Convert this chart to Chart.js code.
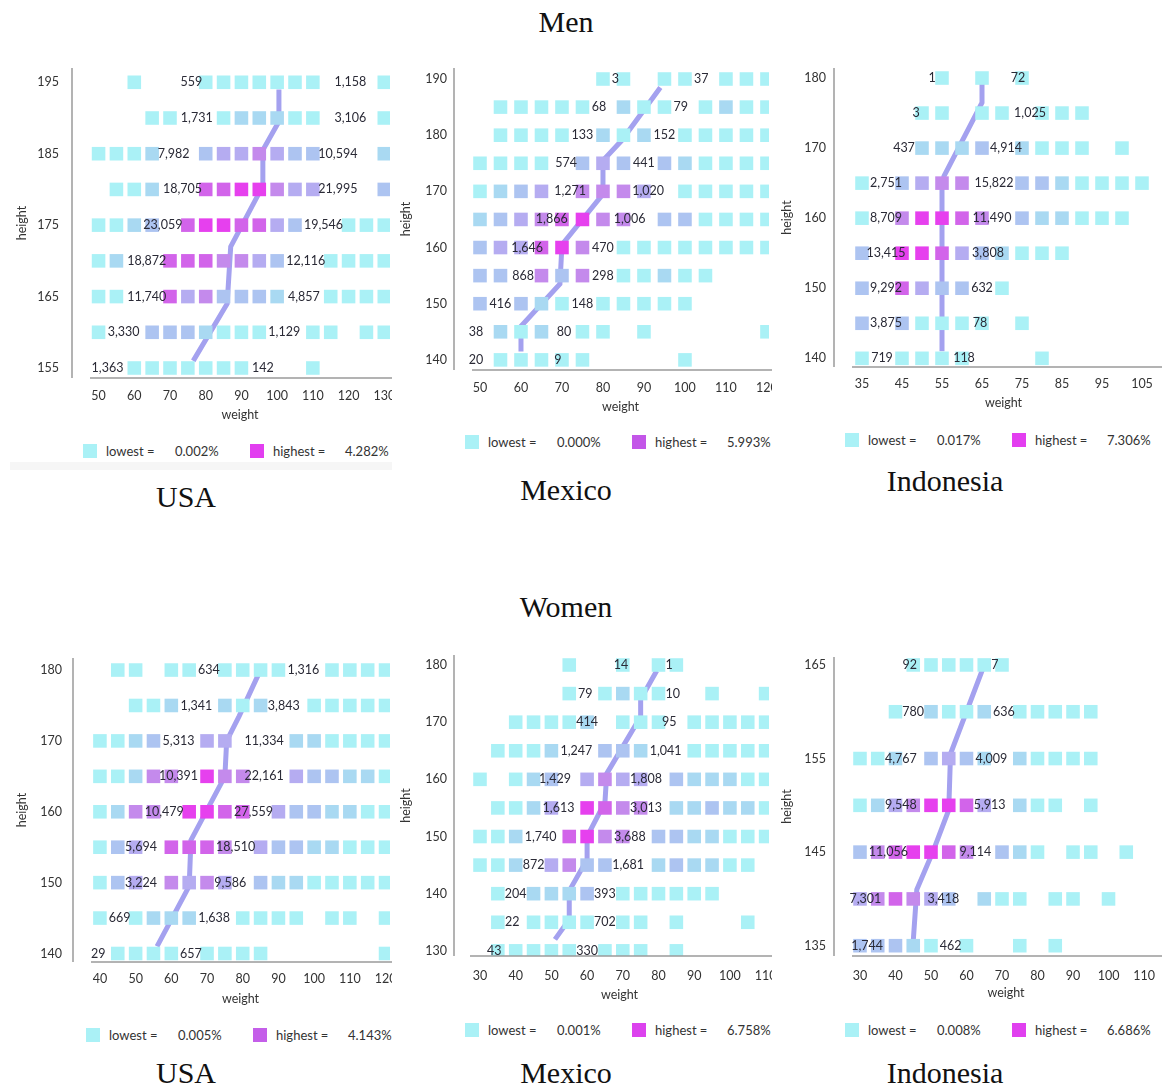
<!DOCTYPE html>
<html>
<head>
<meta charset="utf-8">
<title>Height and weight of men and women</title>
<script src="https://cdn.jsdelivr.net/npm/chart.js@4.4.1/dist/chart.umd.min.js"></script>
<style>
  body { margin: 0; background: #fff; }
  #page { position: relative; width: 1162px; height: 1089px; overflow: hidden; font-family: Lato, 'Open Sans', sans-serif; color: #333; }
  canvas { position: absolute; }
  .title { position: absolute; transform: translate(-50%, -50%); font-family: 'Liberation Serif', 'DejaVu Serif', serif; font-size: 30px; line-height: 1; color: #111; white-space: nowrap; }
  .leg { position: absolute; font-size: 13px; line-height: 1; transform: translateY(-50%); white-space: nowrap; color: #333; }
  .sw { position: absolute; width: 14px; height: 14px; transform: translateY(-50%); }
  .band { position: absolute; background: #f6f6f6; }
</style>
</head>
<body>
<div id="page"></div>
<script>
// cell shade per bin: 0 = no people, 1 = lowest share (cyan) ... 7 = highest share (magenta)
const levelColors = [null, '#aaf1f6', '#a9d9f2', '#adc4f1', '#b5acf1', '#c48aec', '#d264ea', '#e640ee'];

// ---- Men, USA
const menUsaWeights = [50, 55, 60, 65, 70, 75, 80, 85, 90, 95, 100, 105, 110, 115, 120, 125, 130];
const menUsaHeights = [195, 190, 185, 180, 175, 170, 165, 160, 155];
const menUsaLevels = [
  '00100011111110001',
  '00011001222110001',
  '11120034454330002',
  '01120066775440003',
  '11230677664300111',
  '12006665543001111',
  '11006453332001111',
  '10033321110011011',
  '00111111100010000'
];
const menUsaLeftCounts = [559, 1731, 7982, 18705, 23059, 18872, 11740, 3330, 1363];
const menUsaLeftAt = [76, 77.5, 71, 73.5, 68, 63.5, 63.5, 57, 52.5];
const menUsaRightCounts = [1158, 3106, 10594, 21995, 19546, 12116, 4857, 1129, 142];
const menUsaRightAt = [120.5, 120.5, 117, 117, 113, 108, 107.5, 102, 96];
const menUsaMedianW = [100.5, 100.5, 96, 96, 87, 86, 76.5];
const menUsaMedianH = [194, 189.5, 185.5, 180.5, 172, 164, 156];
const menUsaXTicks = [50, 60, 70, 80, 90, 100, 110, 120, 130];
const menUsaYTicks = [155, 165, 175, 185, 195];

// ---- Men, Mexico
const menMexWeights = [50, 55, 60, 65, 70, 75, 80, 85, 90, 95, 100, 105, 110, 115, 120];
const menMexHeights = [190, 185, 180, 175, 170, 165, 160, 155, 150, 145, 140];
const menMexLevels = [
  '000000110110111',
  '011111021101211',
  '011110212011111',
  '111103430321111',
  '123405554011111',
  '234567550331111',
  '344675011111111',
  '330535011211000',
  '303210111110000',
  '021201101000001',
  '011111000010000'
];
const menMexLeftCounts = [3, 68, 133, 574, 1271, 1866, 1646, 868, 416, 38, 20];
const menMexLeftAt = [83, 79, 75, 71, 72, 67.5, 61.5, 60.5, 55, 49, 49];
const menMexRightCounts = [37, 79, 152, 441, 1020, 1006, 470, 298, 148, 80, 9];
const menMexRightAt = [104, 99, 95, 90, 91, 86.5, 80, 80, 75, 70.5, 69];
const menMexMedianW = [94, 84.5, 80, 80, 70, 69.5, 60, 60];
const menMexMedianH = [188.5, 179, 175.5, 169.5, 160.5, 153.5, 146, 141.5];
const menMexXTicks = [50, 60, 70, 80, 90, 100, 110, 120];
const menMexYTicks = [140, 150, 160, 170, 180, 190];

// ---- Men, Indonesia
const menIdnWeights = [35, 40, 45, 50, 55, 60, 65, 70, 75, 80, 85, 90, 95, 100, 105];
const menIdnHeights = [180, 175, 170, 165, 160, 155, 150, 145, 140];
const menIdnLevels = [
  '000010101000000',
  '000110110111000',
  '000222302111010',
  '103455003321111',
  '105776503221110',
  '307764321110000',
  '306433010000000',
  '303111101000000',
  '101111000100000'
];
const menIdnLeftCounts = [1, 3, 437, 2751, 8709, 13415, 9292, 3875, 719];
const menIdnLeftAt = [52.5, 48.5, 45.5, 41, 41, 41, 41, 41, 40];
const menIdnRightCounts = [72, 1025, 4914, 15822, 11490, 3808, 632, 78, 118];
const menIdnRightAt = [74, 77, 71, 68, 67.5, 66.5, 65, 64.5, 60.5];
const menIdnMedianW = [65, 65, 55.5, 55, 55];
const menIdnMedianH = [179.7, 176.5, 166, 164.5, 141];
const menIdnXTicks = [35, 45, 55, 65, 75, 85, 95, 105];
const menIdnYTicks = [140, 150, 160, 170, 180];

// ---- Women, USA
const womenUsaWeights = [40, 45, 50, 55, 60, 65, 70, 75, 80, 85, 90, 95, 100, 105, 110, 115, 120];
const womenUsaHeights = [180, 175, 170, 165, 160, 155, 150, 145, 140];
const womenUsaLevels = [
  '01101101111001111',
  '00112002120011111',
  '11230044000221111',
  '11255075500433221',
  '12550776604332211',
  '13406665043322111',
  '13405454032211111',
  '10122200111101101',
  '01111011110000001'
];
const womenUsaLeftCounts = [634, 1341, 5313, 10391, 10479, 5694, 3224, 669, 29];
const womenUsaLeftAt = [70.5, 67, 62, 62, 58, 51.5, 51.5, 45.5, 39.5];
const womenUsaRightCounts = [1316, 3843, 11334, 22161, 27559, 18510, 9586, 1638, 657];
const womenUsaRightAt = [97, 91.5, 86, 86, 83, 78, 76.5, 72, 65.5];
const womenUsaMedianW = [84.5, 79, 75.5, 75, 65.5, 65, 56];
const womenUsaMedianH = [179.5, 173.5, 170, 165, 156, 149.5, 141];
const womenUsaXTicks = [40, 50, 60, 70, 80, 90, 100, 110, 120];
const womenUsaYTicks = [140, 150, 160, 170, 180];

// ---- Women, Mexico
const womenMexWeights = [30, 35, 40, 45, 50, 55, 60, 65, 70, 75, 80, 85, 90, 95, 100, 105, 110];
const womenMexHeights = [180, 175, 170, 165, 160, 155, 150, 145, 140, 135, 130];
const womenMexLevels = [
  '00000100101100000',
  '00000101211001001',
  '00111120111011111',
  '01112003320011111',
  '10123045440322211',
  '01124076550223221',
  '11200675503322111',
  '11204533002322110',
  '01022230111111000',
  '01011110110100010',
  '01111101110100000'
];
const womenMexLeftCounts = [14, 79, 414, 1247, 1429, 1613, 1740, 872, 204, 22, 43];
const womenMexLeftAt = [69.5, 59.5, 60, 57, 51, 52, 47, 45, 40, 39, 34];
const womenMexRightCounts = [1, 10, 95, 1041, 1808, 3013, 3688, 1681, 393, 702, 330];
const womenMexRightAt = [83, 84, 83, 82, 76.5, 76.5, 72, 71.5, 65, 65, 60];
const womenMexMedianW = [79.5, 75, 75, 65.5, 65, 60, 60, 55, 55, 51];
const womenMexMedianH = [179, 174, 171, 161, 156, 150, 146, 140.5, 135.5, 132];
const womenMexXTicks = [30, 40, 50, 60, 70, 80, 90, 100, 110];
const womenMexYTicks = [130, 140, 150, 160, 170, 180];

// ---- Women, Indonesia
const womenIdnWeights = [30, 35, 40, 45, 50, 55, 60, 65, 70, 75, 80, 85, 90, 95, 100, 105, 110];
const womenIdnHeights = [165, 160, 155, 150, 145, 140, 135];
const womenIdnLevels = [
  '00011111100000000',
  '00102112011111000',
  '11203432021111000',
  '12457764021101000',
  '35677650321011010',
  '45654302110110100',
  '33321010010100000'
];
const womenIdnLeftCounts = [92, 780, 4767, 9548, 11056, 7301, 1744];
const womenIdnLeftAt = [44, 45, 41.5, 41.5, 38, 31.5, 32];
const womenIdnRightCounts = [7, 636, 4009, 5913, 9114, 3418, 462];
const womenIdnRightAt = [68, 70.5, 67, 66.5, 62.5, 53.5, 55.5];
const womenIdnMedianW = [64.5, 55.5, 55, 50.5, 46, 45];
const womenIdnMedianH = [164.5, 155.5, 149.5, 145, 141, 135.5];
const womenIdnXTicks = [30, 40, 50, 60, 70, 80, 90, 100, 110];
const womenIdnYTicks = [135, 145, 155, 165];

// legend shares
const lowestShares = ['0.002%', '0.000%', '0.017%', '0.005%', '0.001%', '0.008%'];
const highestShares = ['4.282%', '5.993%', '7.306%', '4.143%', '6.758%', '6.686%'];

Chart.defaults.font.family = 'Lato';
Chart.defaults.color = '#333';

const page = document.getElementById('page');
const fmt = n => n.toLocaleString('en-US');

const panels = [
  { weights: menUsaWeights, heights: menUsaHeights, levels: menUsaLevels,
    leftCounts: menUsaLeftCounts, leftAt: menUsaLeftAt, rightCounts: menUsaRightCounts, rightAt: menUsaRightAt,
    medianW: menUsaMedianW, medianH: menUsaMedianH, xTicks: menUsaXTicks, yTicks: menUsaYTicks,
    area: { l: 90, r: 390, t: 68, b: 378 }, xr: [47.6, 131.6], yr: [153.6, 197],
    axisX: 72, yTickRight: 59, yTitleX: 21, xTickY: 395, weightY: 415, canvasRight: 392,
    legendX: 83, legendY: 451, hiColor: '#e23ef0' },
  { weights: menMexWeights, heights: menMexHeights, levels: menMexLevels,
    leftCounts: menMexLeftCounts, leftAt: menMexLeftAt, rightCounts: menMexRightCounts, rightAt: menMexRightAt,
    medianW: menMexMedianW, medianH: menMexMedianH, xTicks: menMexXTicks, yTicks: menMexYTicks,
    area: { l: 472, r: 769, t: 68, b: 370 }, xr: [48.05, 120.5], yr: [138.2, 191.96],
    axisX: 454, yTickRight: 447, yTitleX: 405, xTickY: 387, weightY: 407, canvasRight: 772,
    legendX: 465, legendY: 442, hiColor: '#c356e8' },
  { weights: menIdnWeights, heights: menIdnHeights, levels: menIdnLevels,
    leftCounts: menIdnLeftCounts, leftAt: menIdnLeftAt, rightCounts: menIdnRightCounts, rightAt: menIdnRightAt,
    medianW: menIdnMedianW, medianH: menIdnMedianH, xTicks: menIdnXTicks, yTicks: menIdnYTicks,
    area: { l: 852, r: 1155, t: 68, b: 367 }, xr: [32.5, 108.25], yr: [138.76, 181.43],
    axisX: 834, yTickRight: 826, yTitleX: 786, xTickY: 383, weightY: 403, canvasRight: 1162,
    legendX: 845, legendY: 440, hiColor: '#e33ef0' },
  { weights: womenUsaWeights, heights: womenUsaHeights, levels: womenUsaLevels,
    leftCounts: womenUsaLeftCounts, leftAt: womenUsaLeftAt, rightCounts: womenUsaRightCounts, rightAt: womenUsaRightAt,
    medianW: womenUsaMedianW, medianH: womenUsaMedianH, xTicks: womenUsaXTicks, yTicks: womenUsaYTicks,
    area: { l: 91, r: 390, t: 658, b: 962 }, xr: [37.5, 121.25], yr: [138.8, 181.7],
    axisX: 73, yTickRight: 62, yTitleX: 21, xTickY: 978, weightY: 999, canvasRight: 392,
    legendX: 86, legendY: 1035, hiColor: '#c45ee9' },
  { weights: womenMexWeights, heights: womenMexHeights, levels: womenMexLevels,
    leftCounts: womenMexLeftCounts, leftAt: womenMexLeftAt, rightCounts: womenMexRightCounts, rightAt: womenMexRightAt,
    medianW: womenMexMedianW, medianH: womenMexMedianH, xTicks: womenMexXTicks, yTicks: womenMexYTicks,
    area: { l: 470, r: 769, t: 655, b: 956 }, xr: [27.2, 110.95], yr: [129.1, 181.75],
    axisX: 454, yTickRight: 447, yTitleX: 405, xTickY: 975, weightY: 995, canvasRight: 772,
    legendX: 465, legendY: 1030, hiColor: '#dc42ee' },
  { weights: womenIdnWeights, heights: womenIdnHeights, levels: womenIdnLevels,
    leftCounts: womenIdnLeftCounts, leftAt: womenIdnLeftAt, rightCounts: womenIdnRightCounts, rightAt: womenIdnRightAt,
    medianW: womenIdnMedianW, medianH: womenIdnMedianH, xTicks: womenIdnXTicks, yTicks: womenIdnYTicks,
    area: { l: 852, r: 1160, t: 657, b: 956 }, xr: [27.75, 114.5], yr: [133.9, 165.85],
    axisX: 834, yTickRight: 826, yTitleX: 786, xTickY: 975, weightY: 993, canvasRight: 1162,
    legendX: 845, legendY: 1030, hiColor: '#e040ef' }
];

function addTitle(text, x, y) {
  const d = document.createElement('div');
  d.className = 'title';
  d.textContent = text;
  d.style.left = x + 'px';
  d.style.top = y + 'px';
  page.appendChild(d);
}

function addLegend(p, i) {
  const items = [
    ['sw', 0, levelColors[1]],
    ['leg', 23, 'lowest ='],
    ['leg', 92, lowestShares[i]],
    ['sw', 167, p.hiColor],
    ['leg', 190, 'highest ='],
    ['leg', 262, highestShares[i]]
  ];
  items.forEach(([cls, dx, val]) => {
    const d = document.createElement('div');
    d.className = cls;
    d.style.left = (p.legendX + dx) + 'px';
    d.style.top = p.legendY + 'px';
    if (cls === 'sw') d.style.background = val; else d.textContent = val;
    page.appendChild(d);
  });
}

function buildPanel(p, i) {
  const left = p.yTitleX - 7;
  const top = p.area.t - 12;
  const width = p.canvasRight - left;
  const height = Math.round(p.weightY + 7 - top);

  const canvas = document.createElement('canvas');
  canvas.width = width;
  canvas.height = height;
  canvas.style.left = left + 'px';
  canvas.style.top = top + 'px';
  canvas.style.width = width + 'px';
  canvas.style.height = height + 'px';
  page.appendChild(canvas);

  // one square per populated bin, shade from its level
  const cells = [];
  const colors = [];
  p.levels.forEach((row, r) => {
    row.split('').forEach((c, j) => {
      const lv = Number(c);
      if (lv > 0) {
        cells.push({ x: p.weights[j], y: p.heights[r] });
        colors.push(levelColors[lv]);
      }
    });
  });

  const median = p.medianW.map((w, k) => ({ x: w, y: p.medianH[k] }));

  // axis lines (offset y axis) and the two counts on each row
  const overlay = {
    id: 'overlay' + i,
    afterDatasetsDraw(chart) {
      const { ctx, chartArea: a, scales: { x, y } } = chart;
      ctx.save();
      ctx.strokeStyle = '#9b9b9b';
      ctx.lineWidth = 1.5;
      const ax = a.left - (p.area.l - p.axisX);
      ctx.beginPath();
      ctx.moveTo(ax, a.top);
      ctx.lineTo(ax, a.bottom);
      ctx.moveTo(a.left, a.bottom);
      ctx.lineTo(a.right + 10, a.bottom);
      ctx.stroke();

      ctx.font = '12.5px Lato';
      ctx.fillStyle = '#2a2a36';
      ctx.textAlign = 'center';
      ctx.textBaseline = 'middle';
      p.heights.forEach((h, r) => {
        const py = y.getPixelForValue(h);
        ctx.fillText(fmt(p.leftCounts[r]), x.getPixelForValue(p.leftAt[r]), py);
        ctx.fillText(fmt(p.rightCounts[r]), x.getPixelForValue(p.rightAt[r]), py);
      });
      ctx.restore();
    }
  };

  new Chart(canvas, {
    type: 'scatter',
    data: {
      datasets: [
        {
          data: cells,
          pointStyle: 'rect',
          pointRadius: 9.6,
          pointBorderWidth: 0,
          pointBackgroundColor: colors,
          order: 1
        },
        {
          data: median,
          showLine: true,
          borderColor: '#a4a1ef',
          borderWidth: 5,
          pointRadius: 0,
          order: 2
        }
      ]
    },
    options: {
      responsive: false,
      animation: false,
      events: [],
      layout: {
        autoPadding: false,
        padding: { top: p.area.t - top, right: p.canvasRight - p.area.r, left: 0, bottom: 0 }
      },
      plugins: { legend: { display: false }, tooltip: { enabled: false } },
      scales: {
        x: {
          type: 'linear',
          min: p.xr[0],
          max: p.xr[1],
          grid: { display: false, drawTicks: false },
          border: { display: false },
          ticks: { font: { size: 12.5 }, color: '#333', padding: p.xTickY - p.area.b - 7, maxRotation: 0, minRotation: 0, autoSkip: false },
          title: { display: true, text: 'weight', font: { size: 12.5, lineHeight: 1.2 }, color: '#333', padding: { top: 0, bottom: 0 } },
          afterBuildTicks: s => { s.ticks = p.xTicks.map(v => ({ value: v })); },
          afterFit: s => { s.height = top + height - p.area.b; s.paddingLeft = 0; s.paddingRight = 0; }
        },
        y: {
          type: 'linear',
          min: p.yr[0],
          max: p.yr[1],
          grid: { display: false, drawTicks: false },
          border: { display: false },
          ticks: { font: { size: 12.5 }, color: '#333', padding: p.area.l - p.yTickRight, autoSkip: false },
          title: { display: true, text: 'height', font: { size: 12.5, lineHeight: 1.2 }, color: '#333', padding: { top: 0, bottom: 0 } },
          afterBuildTicks: s => { s.ticks = p.yTicks.map(v => ({ value: v })); },
          afterFit: s => { s.width = p.area.l - left; s.paddingTop = 0; s.paddingBottom = 0; }
        }
      }
    },
    plugins: [overlay]
  });

  addLegend(p, i);
}

// faint strip under the first panel
const band = document.createElement('div');
band.className = 'band';
band.style.cssText = 'left:10px;top:462px;width:382px;height:8px;';
page.appendChild(band);

panels.forEach(buildPanel);

addTitle('Men', 566, 22);
addTitle('USA', 186, 497);
addTitle('Mexico', 566, 490);
addTitle('Indonesia', 945, 481);
addTitle('Women', 566, 607);
addTitle('USA', 186, 1073);
addTitle('Mexico', 566, 1073);
addTitle('Indonesia', 945, 1073);
</script>
</body>
</html>
